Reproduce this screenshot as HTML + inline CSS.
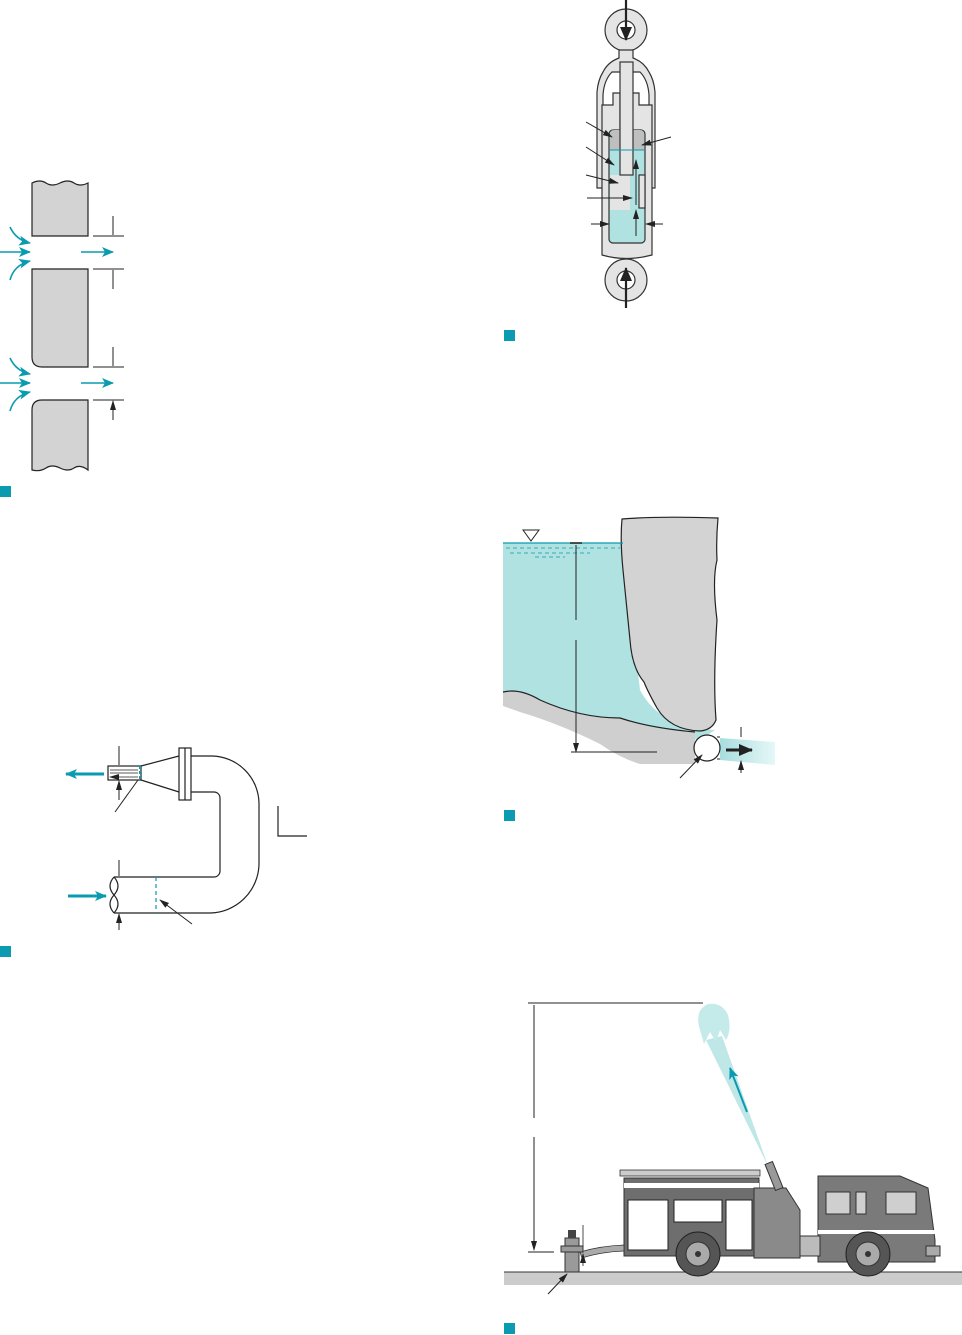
<!DOCTYPE html>
<html><head><style>html,body{margin:0;padding:0;background:#fff}svg{display:block}</style></head><body>
<svg width="962" height="1335" viewBox="0 0 962 1335" xmlns="http://www.w3.org/2000/svg">
<defs>
<marker id="ab" markerWidth="10" markerHeight="8" refX="9" refY="4" orient="auto" markerUnits="userSpaceOnUse"><path d="M0,1 L10,4 L0,7z" fill="#222"/></marker>
<marker id="ac" markerWidth="12" markerHeight="10" refX="11" refY="5" orient="auto" markerUnits="userSpaceOnUse"><path d="M0,0 L12,5 L0,10 L3,5z" fill="#0a9bb0"/></marker>
<marker id="abig" markerWidth="14" markerHeight="12" refX="13" refY="6" orient="auto" markerUnits="userSpaceOnUse"><path d="M0,0 L14,6 L0,12z" fill="#222"/></marker>
<linearGradient id="spray" x1="0" x2="1"><stop offset="0" stop-color="#a8dede"/><stop offset="1" stop-color="#e6f7f7"/></linearGradient>
</defs>
<g stroke="#222" stroke-width="1.2" fill="none">
<path d="M32,236 L32,183 q8,-4 14,0 t14,0 t14,0 t14,0 L88,236z" fill="#d3d3d3"/>
<path d="M32,269 L88,269 L88,367 L42,367 q-10,0 -10,-10z" fill="#d3d3d3"/>
<path d="M32,470 L32,410 q0,-10 10,-10 L88,400 L88,470 q-8,-6 -14,-2 t-14,0 t-14,0 t-14,2z" fill="#d3d3d3"/>
<path d="M93,236H124M93,269H124M93,367H124M93,400H124" stroke-width="1"/>
<path d="M113,216V235M113,289V270M113,347V366M113,420V401" stroke-width="1" marker-end="url(#ab)"/>
<g stroke="#0a9bb0" stroke-width="1.6" marker-end="url(#ac)">
<path d="M0,252H30"/><path d="M81,252H113"/><path d="M10,227 Q16,240 30,243"/><path d="M10,280 Q14,265 30,261"/>
<path d="M0,383H30"/><path d="M81,383H113"/><path d="M10,358 Q16,371 30,374"/><path d="M10,411 Q14,396 30,392"/>
</g>
</g>
<rect x="0" y="486" width="11" height="11" fill="#0a9bb0"/>
<rect x="0" y="946" width="11" height="11" fill="#0a9bb0"/>
<rect x="504" y="330" width="11" height="11" fill="#0a9bb0"/>
<rect x="504" y="810" width="11" height="11" fill="#0a9bb0"/>
<rect x="504" y="1323" width="11" height="11" fill="#0a9bb0"/>

<g stroke="#222" stroke-width="1.2" fill="none">
<path d="M187,756 H212 A48,48 0 0 1 259,803 V865 A50,50 0 0 1 210,913 H114 M114,877 H214 A6,6 0 0 0 220,871 V798 A6,6 0 0 0 214,792 H187"/>
<path d="M114,877 q-8,9 0,18 q8,9 0,18 M114,877 q8,9 0,18 q-8,9 0,18"/>
<rect x="179" y="748" width="12" height="52" fill="#fff"/><path d="M185,748V800"/>
<path d="M179,756 L141,766 M179,792 L141,780"/>
<rect x="108" y="766" width="33" height="14" fill="#fff"/>
<path d="M138,770H110M138,773H110M138,777H110" stroke-width="0.8" marker-end="url(#ab)"/>
<path d="M119,746V765M119,800V781" stroke-width="1" marker-end="url(#ab)"/>
<path d="M119,860V876M119,930V914" stroke-width="1" marker-end="url(#ab)"/>
<path d="M115,812L138,780M192,924L160,900" stroke-width="1" marker-end="url(#ab)"/>
<path d="M278,806V836H307" stroke-width="1.2"/>
</g>
<path d="M140,766V780" stroke="#0a9bb0" stroke-width="2" stroke-dasharray="3,2"/>
<path d="M156,877V913" stroke="#0a9bb0" stroke-width="1.2" stroke-dasharray="4,3"/>
<path d="M104,774H66" stroke="#0a9bb0" stroke-width="3" marker-end="url(#ac)"/>
<path d="M68,896H106" stroke="#0a9bb0" stroke-width="3" marker-end="url(#ac)"/>

<g stroke="#333" stroke-width="1.2">
<circle cx="626" cy="30" r="21" fill="#e4e4e4"/><circle cx="626" cy="30" r="9" fill="#fff"/>
<circle cx="626" cy="280" r="21" fill="#e4e4e4"/><circle cx="626" cy="280" r="9" fill="#fff"/>
<path d="M619,50 L619,58 Q608,62 603,72 Q598,80 597,92 L597,188 L603,188 L603,95 Q604,80 612,72 L640,72 Q648,80 649,95 L649,188 L655,188 L655,92 Q654,80 649,72 Q644,62 633,58 L633,50z" fill="#e4e4e4"/>
<path d="M602,105 L613,105 L613,93 L620,93 L620,130 L632,130 L632,93 L639,93 L639,105 L652,105 L652,255 Q626,262 602,255z" fill="#e4e4e4"/>
<rect x="609" y="130" width="36" height="113" rx="4" fill="#b1e2e2"/>
<path d="M610,150 L644,150 L644,134 Q644,130 640,130 L614,130 Q610,130 610,134z" fill="#bfbfbf" stroke="none"/>
<rect x="610" y="175" width="20" height="35" fill="#e4e4e4" stroke="none"/>
<rect x="620" y="62" width="13" height="113" fill="#e4e4e4"/>
<rect x="639" y="175" width="6" height="33" fill="#e4e4e4"/>
<path d="M610,150H644" stroke="#0a9bb0" stroke-width="1"/>
</g>
<g stroke="#222" stroke-width="2.2">
<path d="M626,0V40" marker-end="url(#abig)"/><path d="M626,308V268" marker-end="url(#abig)"/>
</g>
<g stroke="#222" stroke-width="1" marker-end="url(#ab)">
<path d="M636,205V160"/><path d="M636,236V210"/>
<path d="M586,122L612,137"/><path d="M586,147L614,165"/><path d="M586,175L618,183"/><path d="M587,198L632,198"/>
<path d="M591,224L609,224"/><path d="M663,224L646,224"/><path d="M671,137L642,145"/>
</g>

<path d="M503,543 L623,543 Q632,620 640,690 Q660,728 715,730 L700,740 Q650,735 600,718 L560,712 L530,694 L503,692z" fill="#b1e2e2"/>
<path d="M503,692 Q520,688 540,700 Q580,718 620,718 Q650,730 695,732 L695,764 L640,764 Q620,758 600,744 Q560,724 520,712 L503,706z" fill="#cfcfcf"/>
<path d="M503,692 Q520,688 540,700 Q580,718 620,718 Q650,728 695,732" stroke="#222" stroke-width="1.2" fill="none"/>
<path d="M622,519 Q660,516 718,518 Q716,540 717,560 Q712,580 717,620 Q713,680 716,720 Q712,730 700,731 Q670,730 657,708 Q648,692 644,682 Q632,668 630,640 Q626,600 623,570 Q620,540 622,519z" fill="#d3d3d3" stroke="#222" stroke-width="1.2"/>
<path d="M503,543H623" stroke="#0a9bb0" stroke-width="1.2"/>
<path d="M506,548H620M510,553H590M535,557H565" stroke="#0a9bb0" stroke-width="0.8" stroke-dasharray="4,3"/>
<path d="M523,530H539L531,541z" fill="none" stroke="#222" stroke-width="1"/>
<path d="M570,543H582" stroke="#222" stroke-width="1.5"/>
<path d="M576,620V545M576,640V752" stroke="#222" stroke-width="1" marker-end="url(#ab)"/>
<path d="M571,752H657" stroke="#222" stroke-width="1"/>
<path d="M720,738 L775,742 L775,765 L720,760z" fill="url(#spray)"/>
<path d="M717,737H720M717,759H720" stroke="#222"/>
<circle cx="707" cy="748" r="13" fill="#fff" stroke="#222" stroke-width="1.2"/>
<path d="M726,750H752" stroke="#222" stroke-width="3" marker-end="url(#abig)"/>
<path d="M741,727V737M741,773V761" stroke="#222" stroke-width="1" marker-end="url(#ab)"/>
<path d="M680,778L702,755" stroke="#222" stroke-width="1" marker-end="url(#ab)"/>

<rect x="504" y="1272" width="458" height="13" fill="#cccccc"/>
<path d="M504,1272H962" stroke="#333"/>
<path d="M528,1003H703M528,1252H554" stroke="#222" stroke-width="1"/>
<path d="M534,1118V1005M534,1137V1250" stroke="#222" stroke-width="1" marker-end="url(#ab)"/>
<path d="M768,1166 L706,1040 L722,1036z" fill="#bfe7e7"/>
<path d="M700,1030 Q694,1010 708,1004 Q722,1002 728,1015 Q732,1030 726,1040 L720,1030 L716,1042 L710,1032 L704,1044z" fill="#c4eaea"/>
<path d="M747,1112L730,1068" stroke="#0a9bb0" stroke-width="2" marker-end="url(#ac)"/>
<rect x="620" y="1170" width="140" height="6" fill="#ccc" stroke="#333" stroke-width="0.8"/>
<rect x="624" y="1178" width="135" height="78" fill="#6e6e6e" stroke="#333"/>
<rect x="628" y="1200" width="40" height="50" fill="#fff" stroke="#222"/>
<rect x="674" y="1200" width="48" height="22" fill="#fff" stroke="#222"/>
<rect x="726" y="1200" width="26" height="50" fill="#fff" stroke="#222"/>
<rect x="624" y="1183" width="135" height="5" fill="#fff"/>
<path d="M754,1188 L786,1188 L800,1210 L800,1258 L754,1258z" fill="#8a8a8a" stroke="#333"/>
<rect x="770" y="1162" width="8" height="28" fill="#999" stroke="#333" transform="rotate(-22 774 1176)"/>
<path d="M818,1176 L900,1176 L928,1188 L935,1240 L935,1262 L818,1262z" fill="#7a7a7a" stroke="#333"/>
<rect x="826" y="1192" width="24" height="22" fill="#cfcfcf" stroke="#333"/>
<rect x="886" y="1192" width="30" height="22" fill="#cfcfcf" stroke="#333"/>
<rect x="856" y="1192" width="10" height="22" fill="#cfcfcf" stroke="#333"/>
<rect x="800" y="1236" width="20" height="20" fill="#bbb" stroke="#333"/>
<rect x="818" y="1230" width="117" height="4" fill="#fff"/>
<path d="M580,1252 Q600,1246 624,1245 L624,1251 Q600,1252 582,1258z" fill="#aaa" stroke="#333" stroke-width="0.8"/>
<rect x="565" y="1238" width="14" height="34" fill="#9a9a9a" stroke="#333"/>
<rect x="561" y="1246" width="22" height="6" fill="#9a9a9a" stroke="#333"/>
<rect x="568" y="1230" width="8" height="8" fill="#444"/>
<path d="M583,1225V1246M583,1266V1254" stroke="#222" stroke-width="0.8" marker-end="url(#ab)"/>
<path d="M548,1294L567,1274" stroke="#222" stroke-width="1" marker-end="url(#ab)"/>
<circle cx="698" cy="1254" r="22" fill="#555" stroke="#222"/><circle cx="698" cy="1254" r="12" fill="#aaa" stroke="#333"/><circle cx="698" cy="1254" r="3" fill="#333"/>
<circle cx="868" cy="1254" r="22" fill="#555" stroke="#222"/><circle cx="868" cy="1254" r="12" fill="#aaa" stroke="#333"/><circle cx="868" cy="1254" r="3" fill="#333"/>
<rect x="926" y="1246" width="14" height="10" fill="#aaa" stroke="#333"/>
</svg>
</body></html>
